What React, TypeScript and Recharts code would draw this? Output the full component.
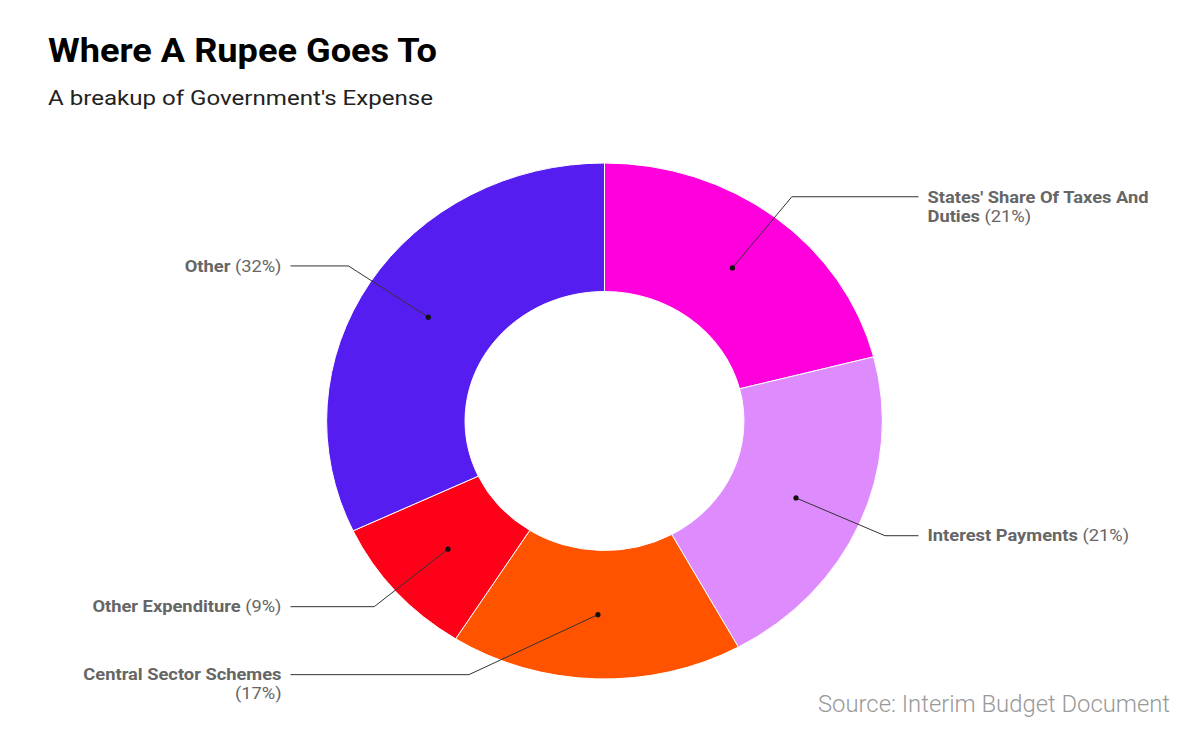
import React from 'react';
import { PieChart, Pie, Cell } from 'recharts';

// ---- data ----
const categories = [
  "States' Share Of Taxes And Duties",
  'Interest Payments',
  'Central Sector Schemes',
  'Other Expenditure',
  'Other',
];
const shares = [21, 21, 17, 9, 32];
const colors = ['#FF00DD', '#DD8BFD', '#FF5300', '#FF0019', '#551DF0'];

const data = categories.map((name, i) => ({ name, value: shares[i] }));

// ---- layout ----
const W = 1200;
const H = 738;
const CX = 604.5;
const CY = 421;
const R = 258;
const IR = 129.5;
const KX = 1.077; // horizontal stretch of the reference
const RAD = Math.PI / 180;
const LABEL_FONT = 'Roboto, "Noto Sans", sans-serif';
const MAX_CHARS = 26;
const ELBOW_NUDGE: Record<string, [number, number]> = {
  'Central Sector Schemes': [-126, -30],
  Other: [2, -3],
  'Other Expenditure': [-1, -2],
  'Interest Payments': [0, 2],
};

const EllipseSector = (props: any) => {
  const { cx, cy, innerRadius, outerRadius, startAngle, endAngle, fill } = props;
  const pt = (r: number, a: number) => [cx + r * KX * Math.cos(-a * RAD), cy + r * Math.sin(-a * RAD)];
  const large = Math.abs(endAngle - startAngle) > 180 ? 1 : 0;
  const sweep = startAngle > endAngle ? 1 : 0;
  const [x1, y1] = pt(outerRadius, startAngle);
  const [x2, y2] = pt(outerRadius, endAngle);
  const [x3, y3] = pt(innerRadius, endAngle);
  const [x4, y4] = pt(innerRadius, startAngle);
  const d = `M${x1},${y1} A${outerRadius * KX},${outerRadius} 0 ${large} ${sweep} ${x2},${y2} L${x3},${y3} A${innerRadius * KX},${innerRadius} 0 ${large} ${1 - sweep} ${x4},${y4} Z`;
  return <path d={d} fill={fill} stroke="#ffffff" strokeWidth={1} />;
};

type Tok = { t: string; b: boolean };
const wrapLabel = (name: string, pct: number): Tok[][] => {
  const toks: Tok[] = name.split(' ').map((t) => ({ t, b: true }));
  toks.push({ t: `(${pct}%)`, b: false });
  const lines: Tok[][] = [];
  let cur: Tok[] = [];
  let len = 0;
  toks.forEach((tk) => {
    const add = (cur.length ? 1 : 0) + tk.t.length;
    if (cur.length && len + add > MAX_CHARS) {
      lines.push(cur);
      cur = [tk];
      len = tk.t.length;
    } else {
      cur.push(tk);
      len += add;
    }
  });
  if (cur.length) lines.push(cur);
  return lines;
};

const renderLabel = (p: any) => {
  const { cx, cy, midAngle, innerRadius, outerRadius, name, value } = p;
  const a = -midAngle * RAD;
  const rm = (innerRadius + outerRadius) / 2;
  const dx = cx + Math.cos(a) * rm * KX;
  const dy = cy + Math.sin(a) * rm;
  const re = outerRadius * 1.1;
  let ex = cx + Math.cos(a) * re * KX;
  let ey = cy + Math.sin(a) * re;
  const nudge = ELBOW_NUDGE[name];
  if (nudge) {
    ex += nudge[0];
    ey += nudge[1];
  }
  const right = Math.cos(a) >= 0;
  const lx = right ? cx + 314 : cx - 314;
  const tx = right ? cx + 323 : cx - 323;
  const lines = wrapLabel(name, value);
  return (
    <g key={`lbl-${name}`}>
      <polyline points={`${dx},${dy} ${ex},${ey} ${lx},${ey}`} fill="none" stroke="#333" strokeWidth={1} />
      <circle cx={dx} cy={dy} r={2.6} fill="#111" />
      {lines.map((ln, li) => (
        <text
          key={li}
          x={0}
          y={0}
          transform={`translate(${tx},${ey + li * 19}) scale(${KX},1)`}
          textAnchor={right ? 'start' : 'end'}
          dominantBaseline="central"
          fontFamily={LABEL_FONT}
          fontSize={17}
          fill="#666"
          style={{ whiteSpace: 'pre' }}
        >
          {ln.map((tk, ti) => (
            <tspan key={ti} fontWeight={tk.b ? 700 : 400}>
              {(ti > 0 ? ' ' : '') + tk.t}
            </tspan>
          ))}
        </text>
      ))}
    </g>
  );
};

export default function App() {
  return (
    <div style={{ position: 'absolute', left: 0, top: 0, width: W, height: H, background: '#fff' }}>
      <PieChart width={W} height={H} margin={{ top: 0, right: 0, bottom: 0, left: 0 }}>
        <Pie
          data={data}
          dataKey="value"
          nameKey="name"
          cx={CX}
          cy={CY}
          innerRadius={IR}
          outerRadius={R}
          startAngle={90}
          endAngle={-270}
          stroke="#ffffff"
          isAnimationActive={false}
          shape={EllipseSector}
          inactiveShape={EllipseSector}
          activeShape={EllipseSector}
          label={renderLabel}
          labelLine={false}
        >
          {data.map((d, i) => (
            <Cell key={d.name} fill={colors[i]} />
          ))}
        </Pie>
      </PieChart>
      <svg width={W} height={H} style={{ position: 'absolute', left: 0, top: 0, pointerEvents: 'none' }}>
        <text x={48} y={62} fontFamily={LABEL_FONT} fontWeight={700} fontSize={33.5} fill="#000" textLength={389} lengthAdjust="spacingAndGlyphs">
          Where A Rupee Goes To
        </text>
        <text x={48} y={105} fontFamily={LABEL_FONT} fontWeight={400} fontSize={21} fill="#222" textLength={385} lengthAdjust="spacingAndGlyphs">
          A breakup of Government's Expense
        </text>
        <text x={818} y={712} fontFamily={LABEL_FONT} fontWeight={300} fontSize={24.5} fill="#999" textLength={352} lengthAdjust="spacingAndGlyphs">
          Source: Interim Budget Document
        </text>
      </svg>
    </div>
  );
}
